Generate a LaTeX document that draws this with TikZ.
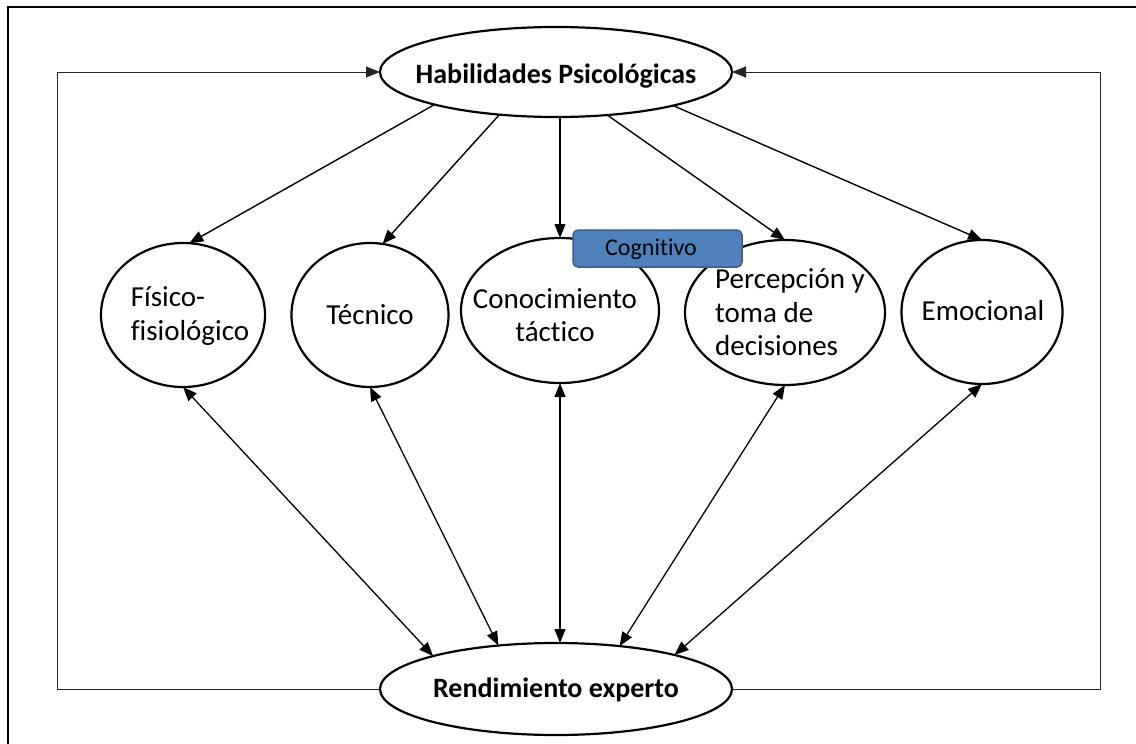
\documentclass[tikz,border=0pt]{standalone}
\usepackage{fontspec}
\setmainfont{Carlito}[Ligatures=NoCommon]
\usetikzlibrary{shapes.geometric,arrows.meta}
\definecolor{cogfill}{RGB}{79,129,189}
\definecolor{cogdraw}{RGB}{56,93,138}
\begin{document}
\begin{tikzpicture}[x=1pt,y=-1pt,
  oval/.style={draw, ellipse, line width=2.2pt, fill=white, inner sep=0pt, outer sep=0pt},
  lbl/.style={font=\fontsize{29}{33.5}\selectfont, inner sep=0pt},
  tlbl/.style={font=\bfseries\fontsize{28}{33}\selectfont, inner sep=0pt},
  tip/.tip={Triangle[length=14pt,width=11pt]},
  arr/.style={line width=1.4pt, -tip},
  darr/.style={line width=1.3pt, tip-tip},
  loopline/.style={line width=1pt, black!85, -tip},
  frameline/.style={line width=2.2pt},
  cogbox/.style={draw=cogdraw, fill=cogfill, line width=1.5pt, rounded corners=5pt,
    minimum width=169pt, minimum height=37pt, inner sep=0pt}]
\useasboundingbox (0,0) rectangle (1136,744);
\draw[frameline] (8,744) -- (8,7) -- (1136,7);

% ellipses
\node[oval, minimum width=352pt, minimum height=90pt] (top) at (556,72) {};
\node[oval, minimum width=352pt, minimum height=92pt] (bot) at (556,689) {};
\node[oval, minimum width=164pt, minimum height=144pt] (fis) at (183,315) {};
\node[oval, minimum width=157pt, minimum height=144pt] (tec) at (370,315) {};
\node[oval, minimum width=198pt, minimum height=145pt] (con) at (560,310.5) {};
\node[oval, minimum width=200pt, minimum height=145pt] (perc) at (785,312.5) {};
\node[oval, minimum width=161pt, minimum height=144pt] (emo) at (982,312) {};

% labels
\node[tlbl, anchor=base] at (556,83) {Habilidades Psicológicas};
\node[tlbl, anchor=base] at (556,697) {Rendimiento experto};
\node[lbl, align=left] at (190,316) {Físico-\\fisiológico};
\node[lbl, anchor=base] at (370,324) {Técnico};
\node[lbl, align=center] at (555,315) {Conocimiento\\táctico};
\node[lbl, align=left] at (790,312.5) {Percepción y\\toma de\\decisiones};
\node[lbl, anchor=base] at (983,320) {Emocional};

% arrows from top
\draw[arr] (top.195.5) -- (fis.85);
\draw[arr] (top.217) -- (tec.80);
\draw[arr] (con.north |- top.south) -- (con.north);
\draw[arr] (top.320) -- (perc.north);
\draw[arr] (top.344.5) -- (emo.north);

% bidirectional arrows to bottom
\draw[darr] (fis.south) -- (bot.165);
\draw[darr] (tec.south) -- (bot.143);
\draw[darr] (con.south) -- (con.south |- bot.north);
\draw[darr] (perc.south) -- (bot.34);
\draw[darr] (emo.south) -- (bot.16.6);

% feedback loop
\draw[loopline] (bot.west) -- ++(-323,0) |- (top.west);
\draw[loopline] (bot.east) -- ++(368,0) |- (top.east);

% cognitivo box
\node[cogbox] (cog) at (657.5,248.5) {};
\node[font=\fontsize{24}{28}\selectfont, anchor=base, inner sep=0pt] at (651,255) {Cognitivo};
\end{tikzpicture}
\end{document}
